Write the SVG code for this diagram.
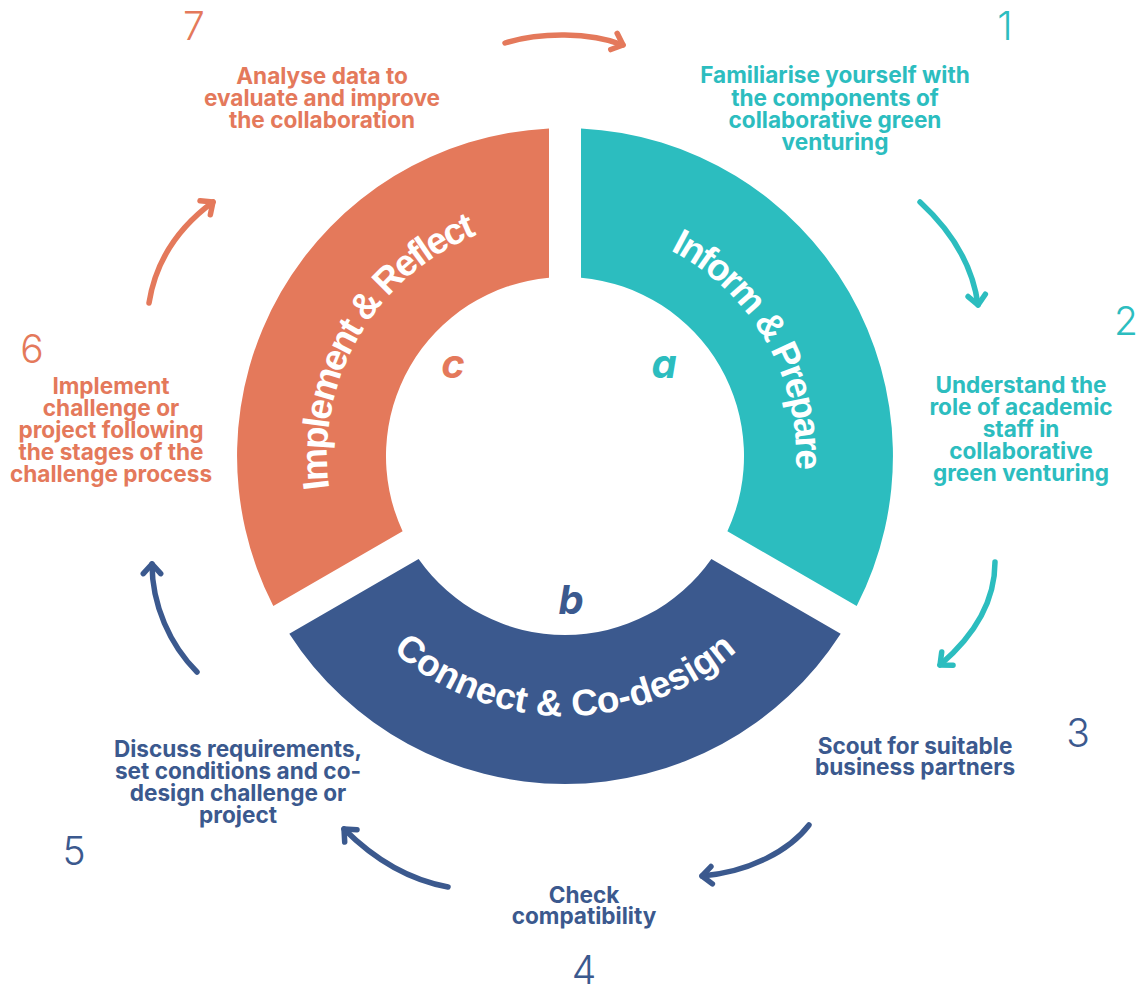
<svg xmlns="http://www.w3.org/2000/svg" width="1140" height="989" viewBox="0 0 1140 989">
<style>
  .seg-label { font-family: "Liberation Sans", Arial, sans-serif; font-weight: 700; fill: #ffffff; font-size: 37px; }
  .tight { letter-spacing: -2.2px; }
  .letter { font-family: Inter, "Liberation Sans", sans-serif; font-weight: 700; font-style: italic; font-size: 40px; text-anchor: middle; }
  .num { font-family: Inter, "Liberation Sans", sans-serif; font-weight: 300; font-size: 39px; text-anchor: middle; }
  .desc { font-family: Inter, "Liberation Sans", sans-serif; font-weight: 700; font-size: 22.6px; text-anchor: middle; }
  .orange { fill: #E4795B; }
  .teal { fill: #2CBDBF; }
  .blue { fill: #3B598E; }
  .arrow { fill: none; stroke-width: 5.5; stroke-linecap: round; stroke-linejoin: round; }
</style>
<defs>
  <marker id="head-orange" markerUnits="userSpaceOnUse" orient="auto" overflow="visible" markerWidth="20" markerHeight="20" refX="0" refY="0">
    <path d="M -9.7 -8.7 L 0 0 L -9.7 8.7" fill="none" stroke="#E4795B" stroke-width="5.5" stroke-linecap="round" stroke-linejoin="round"/>
  </marker>
  <marker id="head-teal" markerUnits="userSpaceOnUse" orient="auto" overflow="visible" markerWidth="20" markerHeight="20" refX="0" refY="0">
    <path d="M -9.7 -8.7 L 0 0 L -9.7 8.7" fill="none" stroke="#2CBDBF" stroke-width="5.5" stroke-linecap="round" stroke-linejoin="round"/>
  </marker>
  <marker id="head-blue" markerUnits="userSpaceOnUse" orient="auto" overflow="visible" markerWidth="20" markerHeight="20" refX="0" refY="0">
    <path d="M -9.7 -8.7 L 0 0 L -9.7 8.7" fill="none" stroke="#3B598E" stroke-width="5.5" stroke-linecap="round" stroke-linejoin="round"/>
  </marker>
  <path id="arc-a" d="M 565 225 A 231 231 0 0 1 765.1 571.5"/>
  <path id="arc-c" d="M 358.9 575 A 238 238 0 0 1 565 218"/>
  <path id="arc-b" d="M 339.8 586 A 260 260 0 0 0 790.2 586"/>
</defs>
<rect width="1140" height="989" fill="#ffffff"/>

<g id="seg-a">
  <path class="teal" d="M 581 128.4 A 328 328 0 0 1 856.7 605.9 L 727.4 531.3 A 179 179 0 0 0 581 277.7 Z"/>
  <text class="seg-label tight"><textPath href="#arc-a" startOffset="50%" text-anchor="middle">Inform &amp; Prepare</textPath></text>
  <text class="letter teal" x="664" y="378">a</text>
</g>
<g id="seg-b">
  <path class="blue" d="M 840.7 633.7 A 328 328 0 0 1 289.3 633.7 L 418.6 559 A 179 179 0 0 0 711.4 559 Z"/>
  <text class="seg-label"><textPath href="#arc-b" startOffset="50%" text-anchor="middle">Connect &amp; Co-design</textPath></text>
  <text class="letter blue" x="571" y="614">b</text>
</g>
<g id="seg-c">
  <path class="orange" d="M 273.3 605.9 A 328 328 0 0 1 549 128.4 L 549 277.7 A 179 179 0 0 0 402.6 531.3 Z"/>
  <text class="seg-label tight"><textPath href="#arc-c" startOffset="50%" text-anchor="middle">Implement &amp; Reflect</textPath></text>
  <text class="letter orange" x="453" y="378">c</text>
</g>

<g id="connectors">
  <path class="arrow" stroke="#E4795B" marker-end="url(#head-orange)" d="M 505 43 C 540 32 590 32 623 45"/>
  <path class="arrow" stroke="#2CBDBF" marker-end="url(#head-teal)" d="M 920 202 C 945 225 972 260 978 305"/>
  <path class="arrow" stroke="#2CBDBF" marker-end="url(#head-teal)" d="M 995 562 C 995 600 975 635 940 665"/>
  <path class="arrow" stroke="#3B598E" marker-end="url(#head-blue)" d="M 809 825 C 790 850 750 872 702 876"/>
  <path class="arrow" stroke="#3B598E" marker-end="url(#head-blue)" d="M 448 887 C 410 880 375 860 344 829"/>
  <path class="arrow" stroke="#3B598E" marker-end="url(#head-blue)" d="M 197 672 C 170 645 152 605 152 564"/>
  <path class="arrow" stroke="#E4795B" marker-end="url(#head-orange)" d="M 149 303 C 155 265 175 230 213 202"/>
</g>

<g id="step-1">
  <text class="num teal" x="1005" y="40">1</text>
  <text class="desc teal"><tspan x="835" y="83">Familiarise yourself with</tspan><tspan x="835" y="105.5">the components of</tspan><tspan x="835" y="128">collaborative green</tspan><tspan x="835" y="150">venturing</tspan></text>
</g>
<g id="step-2">
  <text class="num teal" x="1126" y="335">2</text>
  <text class="desc teal"><tspan x="1021" y="393">Understand the</tspan><tspan x="1021" y="415">role of academic</tspan><tspan x="1021" y="437">staff in</tspan><tspan x="1021" y="459">collaborative</tspan><tspan x="1021" y="481">green venturing</tspan></text>
</g>
<g id="step-3">
  <text class="num blue" x="1078" y="747">3</text>
  <text class="desc blue"><tspan x="915" y="754">Scout for suitable</tspan><tspan x="915" y="775">business partners</tspan></text>
</g>
<g id="step-4">
  <text class="num blue" x="584" y="984">4</text>
  <text class="desc blue"><tspan x="584" y="903">Check</tspan><tspan x="584" y="923.5">compatibility</tspan></text>
</g>
<g id="step-5">
  <text class="num blue" x="74" y="865">5</text>
  <text class="desc blue"><tspan x="238" y="757">Discuss requirements,</tspan><tspan x="238" y="779">set conditions and co-</tspan><tspan x="238" y="801">design challenge or</tspan><tspan x="238" y="823">project</tspan></text>
</g>
<g id="step-6">
  <text class="num orange" x="32" y="363">6</text>
  <text class="desc orange"><tspan x="111" y="394">Implement</tspan><tspan x="111" y="416">challenge or</tspan><tspan x="111" y="438">project following</tspan><tspan x="111" y="460">the stages of the</tspan><tspan x="111" y="482">challenge process</tspan></text>
</g>
<g id="step-7">
  <text class="num orange" x="194" y="40">7</text>
  <text class="desc orange"><tspan x="322" y="84">Analyse data to</tspan><tspan x="322" y="106">evaluate and improve</tspan><tspan x="322" y="128">the collaboration</tspan></text>
</g>
</svg>
